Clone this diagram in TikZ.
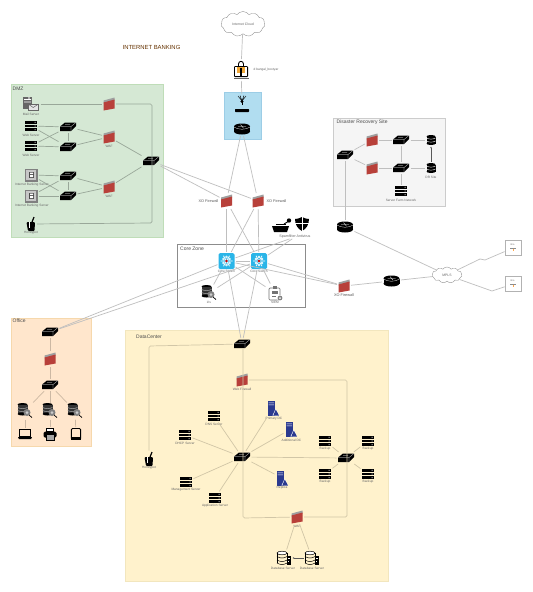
\documentclass[tikz,border=0pt]{standalone}
\usepackage{fontspec}
\setmainfont{Liberation Sans}
\usetikzlibrary{shapes.symbols}
\usetikzlibrary{arrows.meta}
\definecolor{dmzfill}{HTML}{D5E8D4}
\definecolor{dmzline}{HTML}{BFDDB8}
\definecolor{wanfill}{HTML}{B1DDF0}
\definecolor{wanline}{HTML}{9CCDE6}
\definecolor{offfill}{HTML}{FFE6CC}
\definecolor{offline}{HTML}{F6D8AC}
\definecolor{dcfill}{HTML}{FFF2CC}
\definecolor{dcline}{HTML}{F2E6BE}
\definecolor{fwred}{HTML}{B8403A}
\definecolor{coreblue}{HTML}{2AB5E8}
\definecolor{dcblue}{HTML}{2B3A8F}
\definecolor{lockorange}{HTML}{F0A838}
\newcommand{\swicon}{\begin{scope}[iconshift]
	\fill (-8,-.5) -- (-3,-4.5) -- (8,-4.5) -- (8,-1) -- (3,4.2) -- (-8,4.2) -- cycle;
	\draw [white,line width=.2pt] (-8,-.5) -- (3,-.5) -- (8,-4.5) (3,-.5) -- (3,4.2) (-3,-2.5) -- (2,-2.5);
\end{scope}}
\newcommand{\fwicon}{\begin{scope}[iconshift]
	\fill [gray!75] (-5.5,-3.5) -- (5.5,-6.5) -- (5.5,-3.5) -- (-5.5,-.5) -- cycle;
	\fill [fwred] (-5.5,-1.5) -- (5.5,-4.5) -- (5.5,4.5) -- (-5.5,6.5) -- cycle;
\end{scope}}
\newcommand{\rticon}{\begin{scope}[iconshift]
	\fill (0,2.5) ellipse (8 and 3);
	\fill (-8,-2.5) rectangle (8,2.5);
	\fill (0,-2.5) ellipse (8 and 3);
	\draw [white,line width=.25pt] (-8,-2) .. controls (-4,1) and (4,1) .. (8,-2);
	\draw [white,line width=.3pt] (-4,-2.5) -- (4,-2.5) (-1.5,-4.5) -- (1.5,-.8);
\end{scope}}
\newcommand{\srvicon}{\begin{scope}[iconshift]
	\fill (-6,-5.2) rectangle (6,-2.3);
	\fill (-6,-1.45) rectangle (6,1.45);
	\fill (-6,2.3) rectangle (6,5.2);
	\fill [white] (3.5,-4.1) rectangle (4.6,-3.3) (3.5,-.4) rectangle (4.6,.4) (3.5,3.3) rectangle (4.6,4.1);
\end{scope}}
\newcommand{\dbicon}{\begin{scope}[iconshift]
	\fill (-4.5,-3.5) rectangle (4.5,3.5);
	\fill (0,-3.5) ellipse (4.5 and 1.5);
	\fill (0,3.5) ellipse (4.5 and 1.5);
	\draw [white,line width=.4pt] (-4.5,-2) .. controls (-2,-.5) and (2,-.5) .. (4.5,-2) (-4.5,1) .. controls (-2,2.5) and (2,2.5) .. (4.5,1);
\end{scope}}
\newcommand{\mailicon}{\begin{scope}[iconshift]
	\fill [black!60] (-8,-7) rectangle (1,5);
	\fill [white] (-7,-5) rectangle (0,-4.2) (-7,-2.5) rectangle (0,-1.7);
	\fill [black!30] (-3,-7) rectangle (-1.5,-5.5);
	\filldraw [fill=white!90!black,draw=black!60,line width=.5pt] (-3,0) rectangle (7.5,6.5);
	\draw [black!60,line width=.5pt] (-3,0) -- (2.2,3.5) -- (7.5,0);
\end{scope}}
\newcommand{\ibsicon}{\begin{scope}[iconshift]
	\fill [black!50] (-6.5,-6.5) rectangle (6.5,6.5);
	\fill [black!22] (-5.2,-5.2) rectangle (5.2,5.2);
	\fill [black!70] (-2.5,-3.5) rectangle (3,3);
	\fill [white] (-.8,-2.5) rectangle (2,-.8) (-.8,.2) rectangle (2,2);
\end{scope}}
\newcommand{\hpicon}{\begin{scope}[iconshift]
	\fill [rounded corners=1pt] (-4.5,-2) -- (4,-2) -- (3.5,7) -- (-3,7) -- cycle;
	\draw [line width=1.2pt] (-.5,2) -- (3,-7);
	\draw [white,line width=.4pt] (-1.5,-2) -- (-1.5,4);
\end{scope}}
\newcommand{\stoicon}{\begin{scope}[iconshift]
	\fill (-2.5,-6.5) ellipse (5 and 1.5);
	\fill [black!80] (-7.5,-6.5) rectangle (2.5,3);
	\fill (-2.5,3) ellipse (5 and 1.5);
	\draw [black!35,line width=.5pt] (-7.5,-3.5) .. controls (-4,-2) and (-1,-2) .. (2.5,-3.5) (-7.5,-.5) .. controls (-4,1) and (-1,1) .. (2.5,-.5);
	\fill [black!50] (2,1.5) circle (3.5);
	\fill [black!20] (2,1.5) circle (1.5);
	\draw [black,line width=.7pt] (4,4) -- (7,6.5);
\end{scope}}
\newcommand{\lapicon}{\begin{scope}[iconshift]
	\draw [line width=.9pt] (-5.2,-5) rectangle (5.2,2.5);
	\fill (-7,3) -- (7,3) -- (6,5) -- (-6,5) -- cycle;
\end{scope}}
\newcommand{\prticon}{\begin{scope}[iconshift]
	\fill [rounded corners=1.5pt] (-6.5,-2.5) rectangle (6.5,3.5);
	\fill (-4,-6) rectangle (4,-2);
	\fill [white] (-3,-5) rectangle (3,-2.8);
	\fill (-4.5,2) rectangle (4.5,6.5);
	\fill [black!35] (-3.5,1) rectangle (3.5,5.5);
\end{scope}}
\newcommand{\tabicon}{\begin{scope}[iconshift]
	\draw [line width=.9pt,rounded corners=1pt] (-4.6,-5.5) rectangle (4.6,5.5);
	\fill (-4.6,3) rectangle (4.6,5.5);
\end{scope}}
\newcommand{\coreicon}{\begin{scope}[iconshift]
	\fill [coreblue,rounded corners=1.5pt] (-8,-8) rectangle (8,8);
	\draw [white,line width=.7pt] (-6,0) -- (6,0) (-3,-5.2) -- (3,5.2) (-3,5.2) -- (3,-5.2);
	\draw [white,line width=.5pt] (-3,-2) circle (1) (3,-2) circle (1) (-3,2) circle (1) (3,2) circle (1) (0,-4) circle (1) (0,4) circle (1);
	\fill [red!80!black] (0,0) circle (1.3);
\end{scope}}
\newcommand{\blueicon}{\begin{scope}[iconshift]
	\fill [dcblue] (-5.5,-7.5) rectangle (2.2,7.5);
	\fill [white] (-4.5,-5.5) rectangle (1.2,-5) (-4.5,-3.5) rectangle (1.2,-3);
	\fill [white] (-.5,7.5) -- (2.8,.5) -- (6,7.5) -- cycle;
	\fill [dcblue] (.3,7.5) -- (2.8,1.5) -- (6,7.5) -- cycle;
\end{scope}}
\newcommand{\dbsvicon}{\begin{scope}[iconshift]
	\draw [line width=.5pt,fill=white] (-2,-5) ellipse (5 and 1.8);
	\draw [line width=.5pt] (-7,-5) -- (-7,5) (3,-5) -- (3,5);
	\draw [line width=.5pt] (-7,-1.5) .. controls (-4,.5) and (0,.5) .. (3,-1.5) (-7,2) .. controls (-4,4) and (0,4) .. (3,2) (-7,5) .. controls (-4,7) and (0,7) .. (3,5);
	\fill (2.5,-2) rectangle (7,7);
	\fill [white] (3.5,-.5) rectangle (6,.2);
	\fill [white] (4.3,3) rectangle (5.2,3.8);
\end{scope}}
\newcommand{\clipicon}{\begin{scope}[iconshift]
	\draw [black!55,line width=.7pt,rounded corners=1pt] (-6,-5) rectangle (5,7);
	\fill [black!55] (-2.5,-7) rectangle (1.5,-4);
	\fill [black!55] (-3.5,-2) rectangle (2.5,1);
	\fill [black!55] (-3.5,3) rectangle (1,3.6);
	\fill [white] (5,5) circle (3);
	\fill [black!50] (5,5) circle (2.4);
	\fill [white] (5,5) circle (1);
\end{scope}}
\newcommand{\lockicon}{\begin{scope}[iconshift]
	\fill [rounded corners=1pt] (-7,-4) rectangle (7,7);
	\fill [white] (-5.8,-2.8) rectangle (5.8,5.6);
	\fill [black!60] (-7.5,7.5) rectangle (7.5,9);
	\draw [line width=.9pt] (-2.5,-3) -- (-2.5,-6) .. controls (-2.5,-9.5) and (2.5,-9.5) .. (2.5,-6) -- (2.5,-3);
	\fill [lockorange] (-4,-3.5) rectangle (4,3);
	\fill (-.6,-2) rectangle (.6,7);
\end{scope}}
\newcommand{\toolicon}{\begin{scope}[iconshift]
	\fill (-10,1) -- (7,1) -- (5,7) -- (-8,7) -- cycle;
	\fill (-6,-1) rectangle (4,.4);
	\draw [line width=.9pt] (2,-1) -- (7,-4);
	\fill (7,-4.5) circle (2.2);
\end{scope}}
\newcommand{\shieldicon}{\begin{scope}[iconshift]
	\fill (0,-7) .. controls (3,-5.5) and (5,-5) .. (7,-5) .. controls (7,1) and (4,5) .. (0,7) .. controls (-4,5) and (-7,1) .. (-7,-5) .. controls (-5,-5) and (-3,-5.5) .. (0,-7) -- cycle;
	\draw [white,line width=.3pt] (0,-7) -- (0,7) (-7,-1) -- (7,-1);
\end{scope}}
\newcommand{\anticon}{\begin{scope}[iconshift]
	\draw [line width=.45pt] (0,1) -- (-4,-4) (0,1) -- (4,-4) (0,1) -- (-2,-4.5) (0,1) -- (2,-4.5);
	\fill (0,1.5) circle (1.7);
	\draw [line width=.7pt] (0,1) -- (0,5);
\end{scope}}
\newcommand{\branchicon}{\begin{scope}[iconshift]
	\draw [black!45,line width=.25pt] (-3,.6) -- (3,.6);
	\draw [orange!70,line width=.25pt] (0,.6) -- (0,3);
\end{scope}}
\tikzset{
	iconshift/.style={x=1pt,y=-1pt,shift={(path picture bounding box.center)}},
	conn/.style={draw=black!25,line width=.7pt},
	conndmz/.style={draw=dmzfill!72!black,line width=.7pt},
	connoff/.style={draw=offfill!80!black,line width=.7pt},
	conndc/.style={draw=dcfill!82!black,line width=.7pt},
	arrowconn/.style={draw=black!65,line width=.35pt,-{Latex[length=1.5pt,width=1.5pt]}},
	icon/.style={rectangle,inner sep=0pt,outer sep=1pt},
	swbox/.style={icon,minimum width=17pt,minimum height=10pt,path picture={\swicon}},
	fwbox/.style={icon,minimum width=12pt,minimum height=14pt,path picture={\fwicon}},
	rtbox/.style={icon,minimum width=17pt,minimum height=12pt,path picture={\rticon}},
	srvbox/.style={icon,minimum width=13pt,minimum height=11pt,path picture={\srvicon}},
	dbbox/.style={icon,minimum width=10pt,minimum height=11pt,path picture={\dbicon}},
	mailbox/.style={icon,minimum width=17pt,minimum height=15pt,path picture={\mailicon}},
	ibsbox/.style={icon,minimum width=14pt,minimum height=14pt,path picture={\ibsicon}},
	hpbox/.style={icon,minimum width=10pt,minimum height=15pt,path picture={\hpicon}},
	stobox/.style={icon,minimum width=15pt,minimum height=15pt,path picture={\stoicon}},
	lapbox/.style={icon,minimum width=15pt,minimum height=11pt,path picture={\lapicon}},
	prtbox/.style={icon,minimum width=14pt,minimum height=13pt,path picture={\prticon}},
	tabbox/.style={icon,minimum width=11pt,minimum height=12pt,path picture={\tabicon}},
	corebox/.style={icon,minimum width=16pt,minimum height=16pt,path picture={\coreicon}},
	bluebox/.style={icon,minimum width=13pt,minimum height=16pt,path picture={\blueicon}},
	dbsvbox/.style={icon,minimum width=15pt,minimum height=15pt,path picture={\dbsvicon}},
	clipbox/.style={icon,minimum width=17pt,minimum height=17pt,path picture={\clipicon}},
	lockbox/.style={icon,minimum width=16pt,minimum height=20pt,path picture={\lockicon}},
	toolbox/.style={icon,minimum width=21pt,minimum height=15pt,path picture={\toolicon}},
	shieldbox/.style={icon,minimum width=15pt,minimum height=15pt,path picture={\shieldicon}},
	antbox/.style={icon,minimum width=10pt,minimum height=11pt,path picture={\anticon}},
	barbox/.style={rectangle,inner sep=0pt,fill=black,rounded corners=.6pt,minimum width=14pt,minimum height=3pt},
	branchbox/.style={rectangle,draw=black!30,line width=.7pt,inner sep=0pt,minimum width=16pt,minimum height=15pt,path picture={\branchicon}},
	cloudnode/.style={cloud,cloud puffs=11,cloud puff arc=110,aspect=1.7,draw=black!45,fill=white,line width=.35pt,inner sep=0pt,text=black!60,font=\fontsize{3.4}{4}\selectfont},
	lab/.style={inner sep=0pt,text=black!60,font=\fontsize{3.2}{4}\selectfont},
	fwlab/.style={inner sep=0pt,text=black!65,font=\fontsize{3.8}{4.5}\selectfont},
	zonelab/.style={inner sep=0pt,anchor=west,text=black!70,font=\fontsize{5}{6}\selectfont},
}
\begin{document}
\begin{tikzpicture}[x=1pt,y=-1pt]
	\useasboundingbox (0,0) rectangle (533,592);
	\fill [white] (0,0) rectangle (533,592);
	\draw [fill=dmzfill,draw=dmzline,line width=.8pt] (11,84) rectangle (163,237);
	\draw [fill=wanfill,draw=wanline,line width=.8pt] (224,92) rectangle (261,139);
	\draw [fill=black!4,draw=black!20,line width=.8pt] (333,118) rectangle (445,206);
	\draw [draw=black!45,line width=.7pt] (177.5,244) rectangle (305.5,307.5);
	\draw [fill=offfill,draw=offline,line width=.8pt] (11,318) rectangle (91,446);
	\draw [fill=dcfill,draw=dcline,line width=.8pt] (125,330) rectangle (388,581);

	\node [inner sep=0pt,text=black!60!orange,font=\fontsize{5.9}{7}\selectfont] (title) at (151.5,47.5) {INTERNET BANKING};
	\node [style=zonelab] (zdmz) at (12.5,89) {DMZ};
	\node [style=zonelab] (zdr) at (336.5,122) {Disaster Recovery Site};
	\node [style=zonelab] (zcore) at (180,249) {Core Zone};
	\node [style=zonelab] (zoff) at (12.5,321) {Office};
	\node [style=zonelab] (zdc) at (136,337) {DataCenter};

	\node [style=cloudnode,minimum width=44pt,minimum height=25pt] (inet) at (243,24) {Internet Cloud};
	\node [style=lockbox] (lock) at (241,70) {};
	\node [style=antbox] (ant) at (242,100) {};
	\node [style=barbox] (bar) at (242,110.5) {};
	\node [style=rtbox] (wanrt) at (242,129) {};
	\node [style=fwbox] (xo1) at (226.5,201) {};
	\node [style=fwbox] (xo2) at (258,201) {};
	\node [style=fwbox] (xo3) at (344,286) {};
	\node [style=corebox] (core1) at (226.5,261) {};
	\node [style=corebox] (core2) at (259,261) {};
	\node [style=toolbox] (spam) at (282,225) {};
	\node [style=shieldbox] (shield) at (302,224) {};
	\node [style=stobox] (iris) at (209,293) {};
	\node [style=clipbox] (siem) at (275,293) {};

	\node [style=mailbox] (mail) at (31,104) {};
	\node [style=srvbox] (web1) at (31,126) {};
	\node [style=srvbox] (web2) at (31,146) {};
	\node [style=ibsbox] (ibs1) at (31,175) {};
	\node [style=ibsbox] (ibs2) at (31,196) {};
	\node [style=hpbox] (hp1) at (31,224) {};
	\node [style=swbox] (dsw1) at (68,127) {};
	\node [style=swbox] (dsw2) at (68,147) {};
	\node [style=swbox] (dsw3) at (68,176) {};
	\node [style=swbox] (dsw4) at (68,196) {};
	\node [style=fwbox] (dfw0) at (109,104) {};
	\node [style=fwbox] (waf1) at (109,137) {};
	\node [style=fwbox] (waf2) at (109,187) {};
	\node [style=swbox] (dcore) at (151,161) {};
	\coordinate (dtop) at (152,104);
	\coordinate (dbot) at (152,223);

	\node [style=swbox] (rsw0) at (345,155) {};
	\node [style=fwbox] (rfw1) at (372,140) {};
	\node [style=fwbox] (rfw2) at (372,168) {};
	\node [style=swbox] (rsw1) at (401,140) {};
	\node [style=swbox] (rsw2) at (401,168) {};
	\node [style=dbbox] (rdb1) at (431,140) {};
	\node [style=dbbox] (rdb2) at (431,168) {};
	\node [style=srvbox] (rsrv) at (401,191) {};
	\node [style=rtbox] (rrt) at (345,227) {};
	\node [style=rtbox] (mrt) at (391.5,281) {};
	\node [style=cloudnode,minimum width=30pt,minimum height=16pt] (mpls) at (447,275) {MPLS};
	\node [style=branchbox] (br1) at (513,248) {};
	\node [style=branchbox] (br2) at (513,284) {};
	\coordinate (bk1) at (480,259);
	\coordinate (bk2) at (485,260);
	\coordinate (bk3) at (492,291);

	\node [style=swbox] (osw1) at (50,332) {};
	\node [style=fwbox] (ofw) at (50,359) {};
	\node [style=swbox] (osw2) at (50,385) {};
	\node [style=stobox] (ost1) at (25,411) {};
	\node [style=stobox] (ost2) at (50,411) {};
	\node [style=stobox] (ost3) at (75,411) {};
	\node [style=lapbox] (lap) at (25,434) {};
	\node [style=prtbox] (prt) at (50,434) {};
	\node [style=tabbox] (tab) at (76,434) {};

	\node [style=swbox] (csw1) at (242,344) {};
	\node [style=fwbox] (cfw1) at (242,380) {};
	\node [style=swbox] (csw2) at (242,457) {};
	\node [style=swbox] (csw3) at (346,458) {};
	\node [style=fwbox] (cfw2) at (297,517) {};
	\node [style=hpbox] (hp2) at (149,459) {};
	\node [style=srvbox] (dns) at (214,416) {};
	\node [style=srvbox] (dhcp) at (185,435) {};
	\node [style=srvbox] (mgmt) at (186,482) {};
	\node [style=srvbox] (appl) at (215,498) {};
	\node [style=bluebox] (pdc) at (273,408) {};
	\node [style=bluebox] (adc) at (291,429) {};
	\node [style=bluebox] (rdc) at (282,478) {};
	\node [style=srvbox] (bk5) at (325,441) {};
	\node [style=srvbox] (bk6) at (368,441) {};
	\node [style=srvbox] (bk7) at (325,474) {};
	\node [style=srvbox] (bk8) at (368,474) {};
	\node [style=dbsvbox] (db1) at (284,558) {};
	\node [style=dbsvbox] (db2) at (312,558) {};
	\coordinate (hptop) at (149,346);
	\coordinate (dcrighttop) at (347,380);
	\coordinate (dcrightbot) at (347,517);
	\coordinate (dcleftbot) at (243,518);
	\coordinate (dcbus) at (243,349);

	\node [style=lab] (l1) at (266,70) {d bangal\_bootyar};
	\node [style=fwlab] (l2) at (208.5,201) {XO Firewall};
	\node [style=fwlab] (l3) at (276.5,201) {XO Firewall};
	\node [style=fwlab] (l4) at (344,295.5) {XO Firewall};
	\node [style=lab,font=\fontsize{3.6}{4}\selectfont] (l5) at (295,237) {Spamfilter Antivirus};
	\node [style=lab] (l6) at (226.5,271) {Core Switch};
	\node [style=lab] (l7) at (259,271) {Core Switch};
	\node [style=lab] (l8) at (209,302) {iris};
	\node [style=lab] (l9) at (275,302.5) {SIEM};
	\node [style=lab] (l10) at (31,114) {Mail Server};
	\node [style=lab] (l11) at (31,135) {Web Server};
	\node [style=lab] (l12) at (31,155) {Web Server};
	\node [style=lab] (l13) at (32,185) {Internet Banking Server};
	\node [style=lab] (l14) at (32,206) {Internet Banking Server};
	\node [style=lab] (l15) at (31,233) {Honeypot};
	\node [style=lab] (l16) at (109,146) {WAF};
	\node [style=lab] (l17) at (109,196) {WAF};
	\node [style=lab] (l18) at (431,177) {DR Site};
	\node [style=lab] (l19) at (401,200) {Server Farm Network};
	\node [style=lab,text=black!55,font=\fontsize{2.4}{3}\selectfont] (l20) at (512.5,245) {Bra};
	\node [style=lab,text=black!55,font=\fontsize{2.4}{3}\selectfont] (l21) at (512.5,281) {Bra};
	\node [style=lab] (l22) at (242,389) {Web Firewall};
	\node [style=lab] (l23) at (149,468) {Honeypot};
	\node [style=lab] (l24) at (214,424) {DNS Server};
	\node [style=lab] (l25) at (185,443) {DHCP Server};
	\node [style=lab] (l26) at (186,490) {Management Server};
	\node [style=lab] (l27) at (215,506) {Application Server};
	\node [style=lab] (l28) at (274,419) {Primary DC};
	\node [style=lab] (l29) at (291.5,440) {Additional DC};
	\node [style=lab] (l30) at (282,488) {Replica};
	\node [style=lab] (l31) at (325,449) {Backup};
	\node [style=lab] (l32) at (368,449) {Backup};
	\node [style=lab] (l33) at (325,482) {Backup};
	\node [style=lab] (l34) at (368,482) {Backup};
	\node [style=lab] (l35) at (297,526) {WAF};
	\node [style=lab] (l36) at (283,568) {Database Server};
	\node [style=lab] (l37) at (312,568) {Database Server};

	\draw [style=conn] (inet) to (lock);
	\draw [style=conn] (lock) to (ant);
	\draw [style=conn] (wanrt) to (xo1);
	\draw [style=conn] (wanrt) to (xo2);
	\draw [style=conn] (dcore) to (xo1);
	\draw [style=conn] (dcore) to (xo2);
	\draw [style=conn] (xo1) to (core1);
	\draw [style=conn] (xo2) to (core2);
	\draw [style=conn] (xo1) to (core2);
	\draw [style=conn] (xo2) to (core1);
	\draw [style=conn] (core1) to (l5);
	\draw [style=conn] (core2) to (l5);
	\draw [style=conn] (core1) to (iris);
	\draw [style=conn] (core2) to (iris);
	\draw [style=conn] (core1) to (siem);
	\draw [style=conn] (core2) to (siem);
	\draw [style=conn] (core1) to (core2);
	\draw [style=conn] (core1) to (xo3);
	\draw [style=conn] (core2) to (xo3);
	\draw [style=conn] (core1) to (osw1);
	\draw [style=conn] (core2) to (osw1);
	\draw [style=conn] (core1) to (csw1);
	\draw [style=conn] (core2) to (csw1);
	\draw [style=conn] (xo3) to (mrt);
	\draw [style=conn] (mrt) to (mpls);
	\draw [style=conn] (rrt) to (mpls);
	\draw [style=conn] (rsw0) to (rrt);
	\draw [style=conn] (mpls) -- (bk1) -- (bk2) -- (br1);
	\draw [style=conn] (mpls) -- (bk3) -- (br2);

	\draw [style=conndmz] (mail) to (dfw0);
	\draw [style=conndmz,rounded corners=1.5pt] (dfw0) -- (dtop) -- (dbot) -- (hp1);
	\draw [style=conndmz] (web1) to (dsw1);
	\draw [style=conndmz] (web1) to (dsw2);
	\draw [style=conndmz] (web2) to (dsw1);
	\draw [style=conndmz] (web2) to (dsw2);
	\draw [style=conndmz] (dsw1) to (dsw2);
	\draw [style=conndmz] (dsw1) to (waf1);
	\draw [style=conndmz] (dsw2) to (waf1);
	\draw [style=conndmz] (waf1) to (dcore);
	\draw [style=conndmz] (ibs1) to (dsw3);
	\draw [style=conndmz] (ibs1) to (dsw4);
	\draw [style=conndmz] (ibs2) to (dsw3);
	\draw [style=conndmz] (ibs2) to (dsw4);
	\draw [style=conndmz] (dsw3) to (dsw4);
	\draw [style=conndmz] (dsw3) to (waf2);
	\draw [style=conndmz] (dsw4) to (waf2);
	\draw [style=conndmz] (waf2) to (dcore);

	\draw [style=conn] (rsw0) to (rfw1);
	\draw [style=conn] (rsw0) to (rfw2);
	\draw [style=conn] (rfw1) to (rsw1);
	\draw [style=conn] (rfw2) to (rsw2);
	\draw [style=conn] (rsw1) to (rsw2);
	\draw [style=conn] (rsw2) to (rsrv);
	\draw [style=conn] (rsw1) to (rdb1);
	\draw [style=conn] (rsw2) to (rdb2);
	\draw [style=arrowconn] (rdb2) to (rdb1);

	\draw [style=connoff] (osw1) to (ofw);
	\draw [style=connoff] (ofw) to (osw2);
	\draw [style=connoff] (osw2) to (ost1);
	\draw [style=connoff] (osw2) to (ost2);
	\draw [style=connoff] (osw2) to (ost3);
	\draw [style=connoff] (ost1) to (lap);
	\draw [style=connoff] (ost2) to (prt);
	\draw [style=connoff] (ost3) to (tab);

	\draw [style=conndc,rounded corners=1.5pt] (csw1) -- (hptop) -- (hp2);
	\draw [style=conndc,rounded corners=1.5pt] (dcbus) -- (dcleftbot) -- (cfw2);
	\draw [style=conndc,rounded corners=1.5pt] (cfw1) -- (dcrighttop) -- (dcrightbot) -- (cfw2);
	\draw [style=conndc] (csw2) to (dns);
	\draw [style=conndc] (csw2) to (dhcp);
	\draw [style=conndc] (csw2) to (mgmt);
	\draw [style=conndc] (csw2) to (appl);
	\draw [style=conndc] (csw2) to (pdc);
	\draw [style=conndc] (csw2) to (adc);
	\draw [style=conndc] (csw2) to (rdc);
	\draw [style=conndc] (csw2) to (csw3);
	\draw [style=conndc] (csw3) to (bk5);
	\draw [style=conndc] (csw3) to (bk6);
	\draw [style=conndc] (csw3) to (bk7);
	\draw [style=conndc] (csw3) to (bk8);
	\draw [style=conndc] (cfw2) to (db1);
	\draw [style=conndc] (cfw2) to (db2);
	\draw [style=arrowconn] (db2) to (db1);
\end{tikzpicture}
\end{document}
